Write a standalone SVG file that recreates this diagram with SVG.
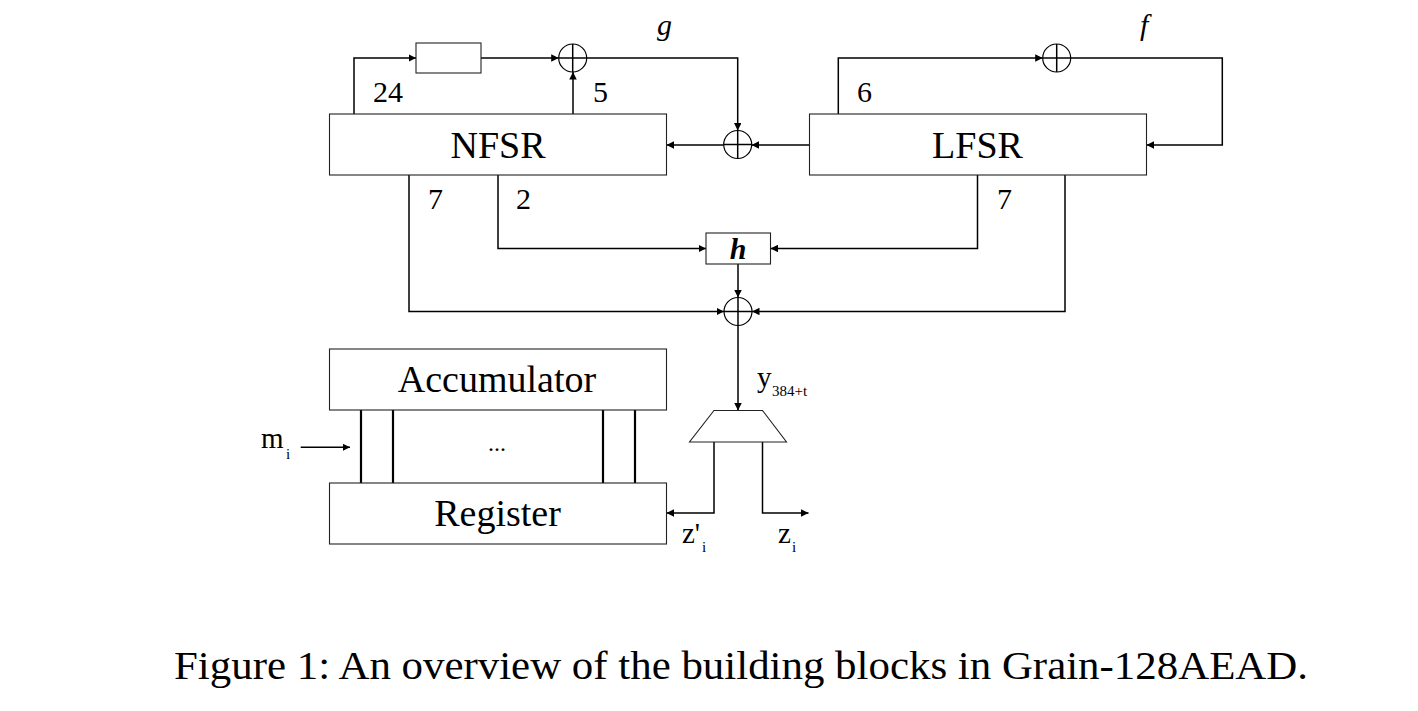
<svg xmlns="http://www.w3.org/2000/svg" width="1418" height="711" viewBox="0 0 1418 711">
<style>
text{font-family:"Liberation Serif","DejaVu Serif",serif;fill:#000}
.box{fill:#fff;stroke:#222;stroke-width:1.1}
.big{font-size:38px;text-anchor:middle}
.num{font-size:30px}
.it{font-size:30px;font-style:italic}
.sub{font-size:15px}
.lbl{font-size:29px}
.xor circle{fill:#fff;stroke:#000;stroke-width:1.2}
.xor line{stroke:#000;stroke-width:1.5}
#connectors path{fill:none;stroke:#000;stroke-width:1.5}
#connectors .bus{stroke-width:2.2}
</style>
<defs>
<marker id="arr" viewBox="0 0 10 10" refX="10" refY="5" markerWidth="5" markerHeight="5" markerUnits="strokeWidth" orient="auto">
<path d="M0,0 L10,5 L0,10 z" fill="#000"/>
</marker>
</defs>
<rect width="1418" height="711" fill="#fff"/>

<g id="connectors">
<path d="M354,114 V58 H416" marker-end="url(#arr)"/>
<path d="M481,58 H558.7" marker-end="url(#arr)"/>
<path d="M573,114 V72" marker-end="url(#arr)"/>
<path d="M586.7,58 H737.7 V130.5" marker-end="url(#arr)"/>
<path d="M723.7,145 H666.5" marker-end="url(#arr)"/>
<path d="M809.5,145 H751.7" marker-end="url(#arr)"/>
<path d="M838.3,114 V58 H1042.7" marker-end="url(#arr)"/>
<path d="M1070.7,58 H1222.3 V145 H1146.5" marker-end="url(#arr)"/>
<path d="M409,175 V311.5 H724" marker-end="url(#arr)"/>
<path d="M498,175 V248.5 H706" marker-end="url(#arr)"/>
<path d="M977.5,175 V248.5 H770.5" marker-end="url(#arr)"/>
<path d="M1065,175 V311.5 H752" marker-end="url(#arr)"/>
<path d="M738,264 V297.5" marker-end="url(#arr)"/>
<path d="M738,325.5 V410.5" marker-end="url(#arr)"/>
<path d="M714,442 V513 H666.5" marker-end="url(#arr)"/>
<path d="M762.5,442 V513 H808.5" marker-end="url(#arr)"/>
<path d="M300.7,447.3 H350" marker-end="url(#arr)"/>
<path class="bus" d="M361,410 V483 M393,410 V483 M603,410 V483 M635,410 V483"/>
</g>

<g id="delay"><rect class="box" x="416" y="43" width="65" height="30"/></g>

<g id="xor-g" class="xor"><circle cx="572.7" cy="58" r="14"/><line x1="558.7" y1="58" x2="586.7" y2="58"/><line x1="572.7" y1="44" x2="572.7" y2="72"/></g>
<g id="xor-fb" class="xor"><circle cx="737.7" cy="144.5" r="14"/><line x1="723.7" y1="144.5" x2="751.7" y2="144.5"/><line x1="737.7" y1="130.5" x2="737.7" y2="158.5"/></g>
<g id="xor-f" class="xor"><circle cx="1056.7" cy="58" r="14"/><line x1="1042.7" y1="58" x2="1070.7" y2="58"/><line x1="1056.7" y1="44" x2="1056.7" y2="72"/></g>
<g id="xor-y" class="xor"><circle cx="738" cy="311.5" r="14"/><line x1="724" y1="311.5" x2="752" y2="311.5"/><line x1="738" y1="297.5" x2="738" y2="325.5"/></g>

<g id="nfsr"><rect class="box" x="329.5" y="114" width="337" height="61"/><text class="big" x="498" y="158">NFSR</text></g>
<g id="lfsr"><rect class="box" x="809.5" y="114" width="337" height="61"/><text class="big" x="977.5" y="158">LFSR</text></g>
<g id="h"><rect class="box" x="706" y="233" width="64.5" height="31"/><text class="it" x="738" y="259" text-anchor="middle" font-weight="bold">h</text></g>
<g id="accumulator"><rect class="box" x="329.5" y="349" width="337" height="61"/><text class="big" x="497" y="392">Accumulator</text></g>
<g id="register"><rect class="box" x="329.5" y="483" width="337" height="61"/><text class="big" x="497.5" y="526">Register</text></g>
<g id="mux"><polygon class="box" points="714,410.5 762.5,410.5 786.5,442 689.5,442"/></g>

<g id="labels">
<text class="it" x="657" y="35">g</text>
<text class="it" x="1140" y="35">f</text>
<text class="num" x="373" y="102">24</text>
<text class="num" x="593" y="102">5</text>
<text class="num" x="857" y="102">6</text>
<text class="num" x="428" y="209">7</text>
<text class="num" x="516" y="209">2</text>
<text class="num" x="997" y="209">7</text>
<text x="497" y="451" font-size="24" text-anchor="middle">...</text>
<text class="lbl" x="261" y="448">m</text><text class="sub" x="286" y="459">i</text>
<text class="lbl" x="757" y="387">y</text><text class="sub" x="772" y="396">384+t</text>
<text class="lbl" x="682" y="543">z'</text><text class="sub" x="702" y="552">i</text>
<text class="lbl" x="778" y="543">z</text><text class="sub" x="792" y="552">i</text>
</g>

<text id="caption" x="174" y="679" font-size="40" textLength="1134" lengthAdjust="spacingAndGlyphs">Figure 1: An overview of the building blocks in Grain-128AEAD.</text>
</svg>
